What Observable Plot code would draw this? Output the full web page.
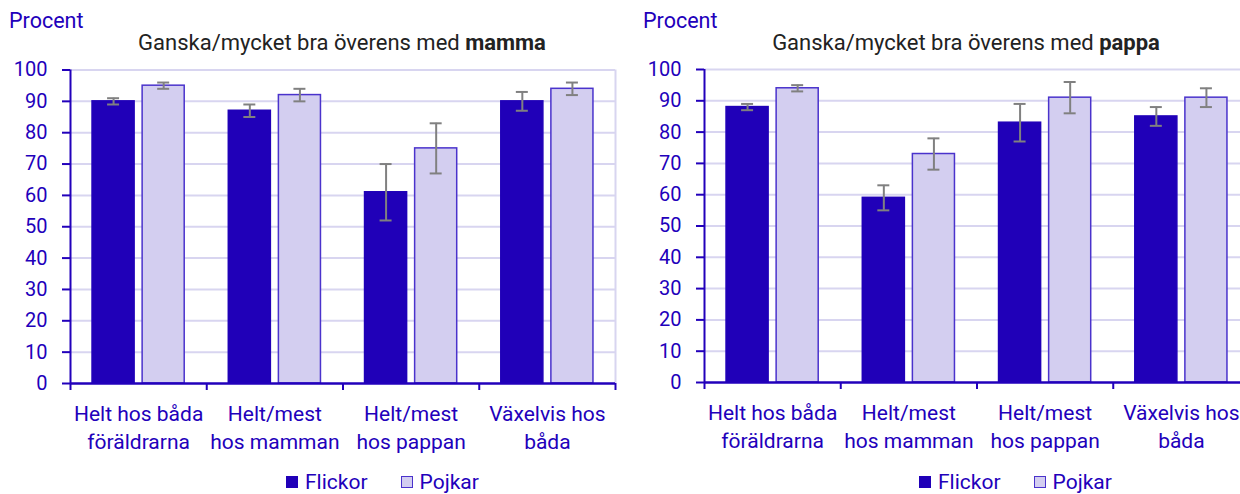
<!DOCTYPE html>
<html>
<head>
<meta charset="utf-8">
<script src="https://cdn.jsdelivr.net/npm/d3@7"></script>
<script src="https://cdn.jsdelivr.net/npm/@observablehq/plot@0.6"></script>
<style>
  html, body { margin: 0; padding: 0; background: #fff; }
  body { width: 1240px; height: 494px; overflow: hidden; position: relative; font-family: Roboto, "Noto Sans", sans-serif; }
  .abs { position: absolute; white-space: nowrap; }
  .procent { color: #2200bb; font-size: 21.5px; line-height: 24px; }
  .title { color: #222; font-size: 22px; line-height: 24px; transform: translateX(-50%); }
  .legend { color: #2200bb; font-size: 21px; line-height: 24px; display: flex; align-items: center; }
  .sw { width: 12px; height: 12px; display: inline-block; margin-right: 7px; box-sizing: border-box; }
  .panel { position: absolute; }
</style>
</head>
<body>
<script>
const categories = ["Helt hos båda\nföräldrarna", "Helt/mest\nhos mamman", "Helt/mest\nhos pappan", "Växelvis hos\nbåda"];
const series = ["Flickor", "Pojkar"];
const yTicks = [0, 10, 20, 30, 40, 50, 60, 70, 80, 90, 100];

const mammaFlickor = [90, 87, 61, 90];
const mammaFlickorLo = [89, 85, 52, 87];
const mammaFlickorHi = [91, 89, 70, 93];
const mammaPojkar = [95, 92, 75, 94];
const mammaPojkarLo = [94, 90, 67, 92];
const mammaPojkarHi = [96, 94, 83, 96];

const pappaFlickor = [88, 59, 83, 85];
const pappaFlickorLo = [87, 55, 77, 82];
const pappaFlickorHi = [89, 63, 89, 88];
const pappaPojkar = [94, 73, 91, 91];
const pappaPojkarLo = [93, 68, 86, 88];
const pappaPojkarHi = [95, 78, 96, 94];

const colors = { Flickor: "#2000b8", Pojkar: "#d3cef0" };
const strokes = { Flickor: "#2000b8", Pojkar: "#4a33cc" };
const axisColor = "#2200bb";
const gridColor = "#d8d5f0";

const inner = d3.scaleBand().domain(series).range([0, 1]).paddingInner(0.16).paddingOuter(0.44);

function rows(fv, fl, fh, pv, pl, ph) {
  const out = [];
  categories.forEach((c, i) => {
    out.push({ i, cat: c, s: "Flickor", v: fv[i], lo: fl[i], hi: fh[i] });
    out.push({ i, cat: c, s: "Pojkar", v: pv[i], lo: pl[i], hi: ph[i] });
  });
  out.forEach(d => {
    d.x1 = d.i + inner(d.s);
    d.x2 = d.x1 + inner.bandwidth();
    d.xc = (d.x1 + d.x2) / 2;
  });
  return out;
}

function panel(data, o) {
  const capHalf = 0.044;
  return Plot.plot({
    width: o.width, height: 400,
    marginLeft: o.ml, marginRight: 5, marginTop: o.mt, marginBottom: o.mb,
    style: { fontFamily: "Roboto, sans-serif", fontSize: "20px", color: axisColor, overflow: "visible" },
    x: { domain: [0, 4], axis: null },
    y: { domain: [0, 100], axis: null },
    marks: [
      Plot.ruleY(yTicks.filter(t => t > 0), { stroke: gridColor, strokeWidth: 2 }),
      Plot.ruleX([4], { stroke: gridColor, strokeWidth: 2 }),
      Plot.rect(data, { x1: "x1", x2: "x2", y1: 0, y2: "v", fill: d => colors[d.s], stroke: d => strokes[d.s], strokeWidth: 1.5 }),
      Plot.ruleX(data, { x: "xc", y1: "lo", y2: "hi", stroke: "#808080", strokeWidth: 2 }),
      Plot.ruleY(data, { y: "lo", x1: d => d.xc - capHalf, x2: d => d.xc + capHalf, stroke: "#808080", strokeWidth: 2 }),
      Plot.ruleY(data, { y: "hi", x1: d => d.xc - capHalf, x2: d => d.xc + capHalf, stroke: "#808080", strokeWidth: 2 }),
      Plot.axisY({ ticks: yTicks, tickSize: 8, tickPadding: 15, strokeWidth: 2, color: axisColor, fontSize: 20 }),
      Plot.axisX({ ticks: [0, 1, 2, 3, 4], tickSize: 7, tickFormat: () => "", strokeWidth: 2, color: axisColor }),
      Plot.ruleX([0], { stroke: axisColor, strokeWidth: 2 }),
      Plot.ruleY([0], { stroke: axisColor, strokeWidth: 2.5 }),
      Plot.text(categories, { x: (d, i) => i + 0.5, frameAnchor: "bottom", lineAnchor: "top", dy: 17, lineHeight: 1.36, fontSize: 21, fill: axisColor, text: d => d })
    ]
  });
}

function addPanel(left, data, o, label) {
  const p = document.createElement("div");
  p.className = "panel";
  p.style.left = left + "px";
  p.style.top = "0px";
  p.style.width = o.width + "px";
  p.style.height = "494px";

  const pr = document.createElement("div");
  pr.className = "abs procent";
  pr.style.left = o.procentX + "px";
  pr.style.top = "9px";
  pr.textContent = "Procent";
  p.appendChild(pr);

  const t = document.createElement("div");
  t.className = "abs title";
  t.style.left = o.titleX + "px";
  t.style.top = "31px";
  t.innerHTML = "Ganska/mycket bra överens med <b>" + label + "</b>";
  p.appendChild(t);

  const svgWrap = document.createElement("div");
  svgWrap.className = "abs";
  svgWrap.style.left = "0px";
  svgWrap.style.top = "55px";
  svgWrap.appendChild(panel(data, o));
  p.appendChild(svgWrap);

  const lg = document.createElement("div");
  lg.className = "abs legend";
  lg.style.left = o.legendX + "px";
  lg.style.top = "470px";
  series.forEach((s, k) => {
    const sw = document.createElement("span");
    sw.className = "sw";
    sw.style.background = colors[s];
    if (s === "Pojkar") sw.style.border = "1px solid " + strokes[s];
    const tx = document.createElement("span");
    tx.textContent = s;
    tx.style.marginRight = k === 0 ? "33px" : "0";
    lg.appendChild(sw);
    lg.appendChild(tx);
  });
  p.appendChild(lg);

  document.body.appendChild(p);
}

addPanel(0, rows(mammaFlickor, mammaFlickorLo, mammaFlickorHi, mammaPojkar, mammaPojkarLo, mammaPojkarHi),
  { width: 620, ml: 70, mt: 14.5, mb: 72, procentX: 9, titleX: 342, legendX: 286 }, "mamma");
addPanel(620, rows(pappaFlickor, pappaFlickorLo, pappaFlickorHi, pappaPojkar, pappaPojkarLo, pappaPojkarHi),
  { width: 634, ml: 84, mt: 14, mb: 73, procentX: 23, titleX: 346, legendX: 299 }, "pappa");
</script>
</body>
</html>
